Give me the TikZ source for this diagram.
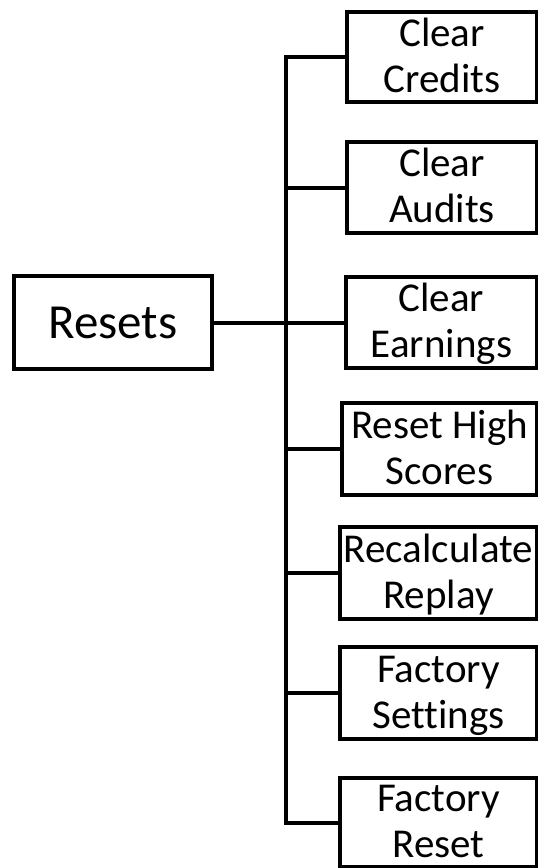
\documentclass[tikz,border=0pt]{standalone}
\usepackage{fontspec}
\setmainfont{Carlito}[Ligatures=NoCommon]
\begin{document}
\begin{tikzpicture}[x=1pt, y=-1pt,
        menu/.style={draw, line width=4pt, align=center, inner sep=0pt,
            text height=70pt, text depth=0pt,
            font=\fontsize{41}{46}\selectfont},
        link/.style={line width=4pt}]

        \useasboundingbox (0, 0) rectangle (538, 868);
        \clip (0, 0) rectangle (538, 868);

        \node (resets) at (113, 322.5) [draw, line width=4pt, inner sep=0pt,
            minimum width=198, minimum height=93,
            font=\fontsize{49}{58}\selectfont] {Resets};

        \node (credits) at (442, 57) [menu, minimum width=190, minimum height=90] {Clear\\Credits};
        \node (audits) at (442, 187.5) [menu, minimum width=190, minimum height=91] {Clear\\Audits};
        \node (earnings) at (441.5, 322.5) [menu, minimum width=191, minimum height=91] {Clear\\Earnings};
        \node (high) at (439.5, 449) [menu, minimum width=195, minimum height=92] {Reset High\\Scores};
        \node (replay) at (438.5, 573) [menu, minimum width=197, minimum height=92] {Recalculate\\Replay};
        \node (settings) at (438.5, 693) [menu, minimum width=197, minimum height=92] {Factory\\Settings};
        \node (factory) at (438.5, 822.5) [menu, minimum width=197, minimum height=89] {Factory\\Reset};

        \coordinate (trunk) at (286, 0);

        \draw[link] (resets.east) -- (resets.east -| trunk);
        \draw[link] (credits.west) -- (credits.west -| trunk) -- (factory.west -| trunk) -- (factory.west);
        \draw[link] (audits.west) -- (audits.west -| trunk);
        \draw[link] (earnings.west) -- (earnings.west -| trunk);
        \draw[link] (high.west) -- (high.west -| trunk);
        \draw[link] (replay.west) -- (replay.west -| trunk);
        \draw[link] (settings.west) -- (settings.west -| trunk);

    \end{tikzpicture}
\end{document}
